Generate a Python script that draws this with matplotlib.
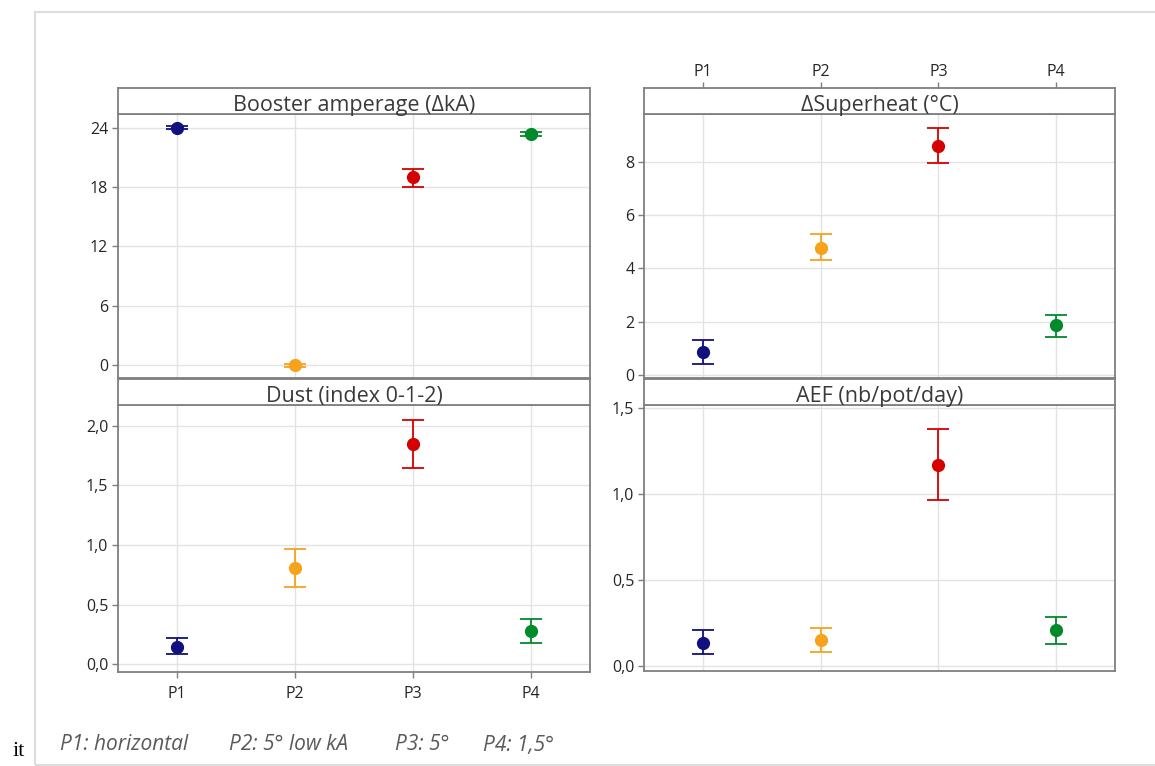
import matplotlib
matplotlib.use("Agg")
import matplotlib.pyplot as plt
from matplotlib.patches import Rectangle

plt.rcParams['font.family'] = ['Open Sans', 'DejaVu Sans']

# categories and colours
groups = ["P1", "P2", "P3", "P4"]
group_colors = ["#10107F", "#F7A21B", "#D50000", "#008A2A"]

# panel titles
titles = ["Booster amperage (\u0394kA)", "\u0394Superheat (\u00b0C)",
          "Dust (index 0-1-2)", "AEF (nb/pot/day)"]

# means and interval bounds
booster_mean = [24.0, 0.0, 19.0, 23.4]
booster_low = [23.85, -0.15, 18.0, 23.2]
booster_high = [24.15, 0.15, 19.85, 23.6]

superheat_mean = [0.84, 4.76, 8.61, 1.88]
superheat_low = [0.39, 4.32, 7.95, 1.42]
superheat_high = [1.29, 5.29, 9.29, 2.26]

dust_mean = [0.146, 0.81, 1.85, 0.277]
dust_low = [0.081, 0.645, 1.65, 0.18]
dust_high = [0.216, 0.97, 2.05, 0.38]

aef_mean = [0.136, 0.148, 1.173, 0.206]
aef_low = [0.068, 0.078, 0.966, 0.125]
aef_high = [0.209, 0.218, 1.381, 0.286]

yticks_list = [[0, 6, 12, 18, 24], [0, 2, 4, 6, 8],
               [0.0, 0.5, 1.0, 1.5, 2.0], [0.0, 0.5, 1.0, 1.5]]
ylims = [(-1.3, 25.4), (-0.12, 9.8), (-0.067, 2.176), (-0.03, 1.52)]

footnote = ["P1: horizontal", "P2: 5\u00b0 low kA", "P3: 5\u00b0", "P4: 1,5\u00b0"]

W, H = 1155, 766
fig = plt.figure(figsize=(W / 100, H / 100), dpi=100)


def fx(px):
    return px / W


def fy(py):
    return 1 - py / H


# outer light frame
fig.patches.append(Rectangle((fx(35), fy(765)), fx(1200 - 35), fy(12) - fy(765),
                             transform=fig.transFigure, fill=False,
                             edgecolor="#DCDCDC", linewidth=1.5))

# panel boxes in pixels: (left, right, strip_top, strip_bottom, plot_bottom)
boxes = [(118, 590, 88, 114, 378), (644, 1115, 88, 114, 378),
         (118, 590, 379, 405, 672), (644, 1115, 379, 405, 671)]

means = [booster_mean, superheat_mean, dust_mean, aef_mean]
lows = [booster_low, superheat_low, dust_low, aef_low]
highs = [booster_high, superheat_high, dust_high, aef_high]

edge = "#7F7F7F"
txt = "#262626"
tsize = 11.5
xs = list(range(1, len(groups) + 1))

for i in range(4):
    l, r, st, sb, pb = boxes[i]
    ax = fig.add_axes([fx(l), fy(pb), fx(r - l), fy(sb) - fy(pb)])
    for j, x in enumerate(xs):
        m = means[i][j]
        ax.errorbar(x, m, yerr=[[m - lows[i][j]], [highs[i][j] - m]],
                    fmt="o", color=group_colors[j], ecolor=group_colors[j],
                    markersize=8.5, elinewidth=1.3, capsize=8, capthick=1.3,
                    zorder=3)
    ax.set_xlim(0.5, 4.5)
    ax.set_ylim(*ylims[i])
    ax.set_yticks(yticks_list[i])
    if i in (2, 3):
        ax.set_yticklabels([f"{v:.1f}".replace(".", ",") for v in yticks_list[i]])
    else:
        ax.set_yticklabels([str(v) for v in yticks_list[i]])
    ax.set_xticks(xs)
    ax.grid(True, color="#E3E3E3", linewidth=1.0, zorder=0)
    ax.set_axisbelow(True)
    for s in ax.spines.values():
        s.set_color(edge)
        s.set_linewidth(1.3)
    ax.tick_params(axis="y", colors=edge, labelcolor=txt, labelsize=tsize,
                   length=4, width=1, pad=3)
    if i == 2:
        ax.tick_params(axis="x", colors=edge, labelcolor=txt, labelsize=tsize,
                       length=4, width=1, pad=6, top=False, bottom=True,
                       labelbottom=True)
        ax.set_xticklabels(groups)
    else:
        ax.tick_params(axis="x", length=0, labelbottom=False, labeltop=False)

    # strip with panel title
    sax = fig.add_axes([fx(l), fy(sb), fx(r - l), fy(st) - fy(sb)])
    sax.set_xticks([])
    sax.set_yticks([])
    for s in sax.spines.values():
        s.set_color(edge)
        s.set_linewidth(1.3)
    sax.text(0.5, 0.12, titles[i], ha="center", va="baseline", fontsize=15.5,
             color="#3A3A3A", transform=sax.transAxes, zorder=5)
    if i == 1:
        # ticks above the strip for the top labels
        sax.set_xlim(0.5, 4.5)
        sax.set_xticks(xs)
        sax.xaxis.tick_top()
        sax.tick_params(axis="x", colors=edge, labelcolor=txt, labelsize=tsize,
                        length=4, width=1, pad=2, top=True, bottom=False,
                        labeltop=True, labelbottom=False)
        sax.set_xticklabels(groups)

# footnote in italic grey
foot_x = [60, 229, 395, 483]
for k, t in enumerate(footnote):
    fig.text(fx(foot_x[k]), fy(745), t, fontsize=15, style="italic",
             color="#5A5A5A", ha="left", va="center")

fig.text(fx(13), fy(752), "it", fontsize=16, family="Liberation Serif",
         color="black", ha="left", va="center")

fig.savefig("out.png", dpi=100)
